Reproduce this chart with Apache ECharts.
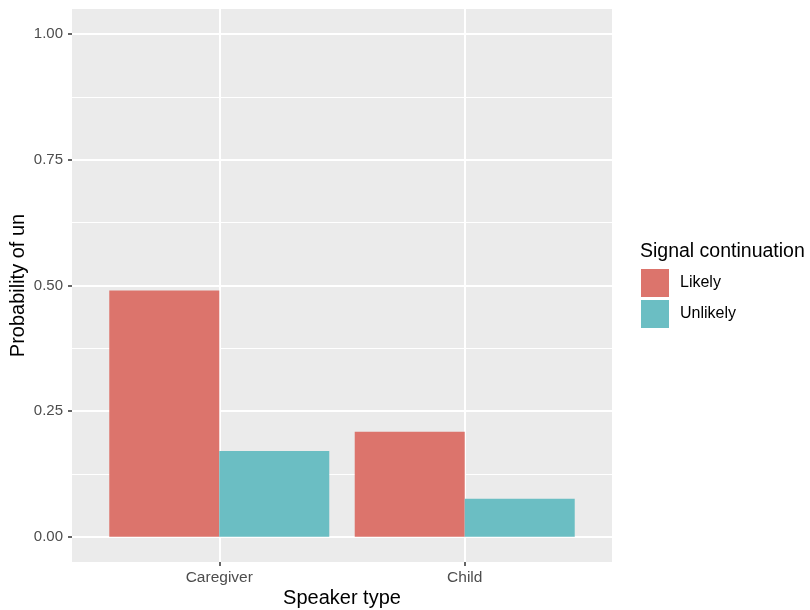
<!DOCTYPE html>
<html><head><meta charset="utf-8">
<script src="https://cdn.jsdelivr.net/npm/echarts@6/dist/echarts.min.js"></script>
<style>html,body{margin:0;padding:0;background:#fff}#c{width:810px;height:610px}</style>
</head><body><div id="c"></div>
<script>
const categories = ['Caregiver', 'Child'];
const seriesNames = ['Likely', 'Unlikely'];
const likely = [0.49, 0.209];
const unlikely = [0.171, 0.076];
const yTicks = [0, 0.25, 0.5, 0.75, 1.0];
const yMinor = [0.125, 0.375, 0.625, 0.875];
const xPos = [1, 2];

const chart = echarts.init(document.getElementById('c'), null, {renderer: 'canvas'});
const font = 'Liberation Sans, Arial, sans-serif';
chart.setOption({
  animation: false,
  backgroundColor: '#fff',
  title: {
    text: 'Signal continuation', left: 640, top: 242, padding: 0,
    textStyle: {fontFamily: font, fontSize: 19.5, fontWeight: 'normal', color: '#000'}
  },
  legend: {
    data: seriesNames, orient: 'vertical', left: 641, top: 269, padding: 0,
    itemWidth: 28, itemHeight: 28, itemGap: 3, icon: 'rect',
    textStyle: {fontFamily: font, fontSize: 16, color: '#000', padding: [2, 0, 0, 6]}
  },
  grid: {left: 72, top: 9, right: 198, bottom: 48, show: true, backgroundColor: '#EBEBEB', borderWidth: 0,
    containLabel: false, outerBoundsMode: 'none'},
  xAxis: {
    type: 'value', min: 0.4, max: 2.6,
    name: 'Speaker type', nameLocation: 'middle', nameGap: 26, nameMoveOverlap: false,
    nameTextStyle: {fontFamily: font, fontSize: 20, color: '#000'},
    axisLine: {show: false, onZero: false},
    axisTick: {show: true, length: 4, customValues: xPos, lineStyle: {color: '#333', width: 1.5}},
    axisLabel: {customValues: xPos, margin: 8, fontFamily: font, fontSize: 15.5, color: '#4D4D4D',
      formatter: v => categories[Math.round(v) - 1] || ''},
    splitLine: {show: true, lineStyle: {color: '#fff', width: 2}}
  },
  yAxis: [{
    type: 'value', min: -0.05, max: 1.05,
    name: 'Probability of un', nameLocation: 'middle', nameGap: 44, nameMoveOverlap: false,
    nameTextStyle: {fontFamily: font, fontSize: 20, color: '#000'},
    axisLine: {show: false, onZero: false},
    axisTick: {show: true, length: 4, customValues: yTicks, lineStyle: {color: '#333', width: 1.5}},
    axisLabel: {customValues: yTicks, margin: 9, fontFamily: font, fontSize: 15, color: '#4D4D4D',
      formatter: v => v.toFixed(2)},
    splitLine: {show: true, lineStyle: {color: '#fff', width: 2}}
  }, {
    type: 'value', min: -0.05, max: 1.05, position: 'left',
    axisLine: {show: false, onZero: false}, axisLabel: {show: false},
    axisTick: {show: false, customValues: yMinor},
    splitLine: {show: true, lineStyle: {color: '#fff', width: 1}}
  }],
  series: [{
    name: 'Likely', type: 'bar', barWidth: 110, barGap: '0%',
    itemStyle: {color: '#DC746C'},
    data: xPos.map((x, i) => [x, likely[i]])
  }, {
    name: 'Unlikely', type: 'bar', barWidth: 110, barGap: '0%',
    itemStyle: {color: '#6BBEC3'},
    data: xPos.map((x, i) => [x, unlikely[i]])
  }]
});
</script></body></html>
